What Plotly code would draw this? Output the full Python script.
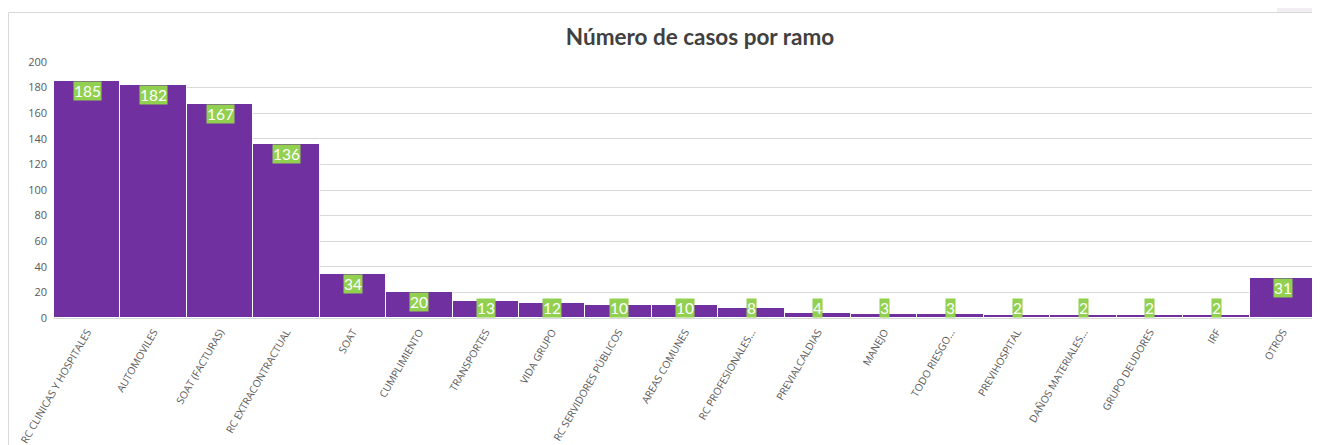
import plotly.graph_objects as go

categories = ["RC CLINICAS Y HOSPITALES", "AUTOMOVILES", "SOAT (FACTURAS)", "RC EXTRACONTRACTUAL",
              "SOAT", "CUMPLIMIENTO", "TRANSPORTES", "VIDA GRUPO", "RC SERVIDORES PÚBLICOS",
              "AREAS COMUNES", "RC PROFESIONALES...", "PREVIALCALDIAS", "MANEJO", "TODO RIESGO...",
              "PREVIHOSPITAL", "DAÑOS MATERIALES...", "GRUPO DEUDORES", "IRF", "OTROS"]
values = [185, 182, 167, 136, 34, 20, 13, 12, 10, 10, 8, 4, 3, 3, 2, 2, 2, 2, 31]
y_ticks = list(range(0, 201, 20))

OFF = 8  # page body offset
W, H = 1320 - OFF, 445 - OFF
ml, mr, mt, mb = 54 - OFF, 4, 62 - OFF, 127
pw, ph = W - ml - mr, H - mt - mb
px = lambda x: (x - ml - OFF) / pw
py = lambda y: (H + OFF - mb - y) / ph

fig = go.Figure(go.Bar(
    x=categories, y=values,
    marker=dict(color="#7030A0", line=dict(color="#FFFFFF", width=1)),
    hoverinfo="x+y",
))

label_min = 15  # below this the label box sits on the axis
for c, v in zip(categories, values):
    if v >= label_min:
        fig.add_annotation(x=c, y=v, yanchor="top", xanchor="center")
    else:
        fig.add_annotation(x=c, y=0, yanchor="bottom", xanchor="center")
    a = fig.layout.annotations[-1]
    a.text = str(v)
    a.showarrow = False
    a.bgcolor = "#92D050"
    a.borderpad = 0
    a.font = dict(family="Lato, Calibri, sans-serif", size=15.5, color="#FFFFFF")

# outer chart border
fig.add_shape(type="rect", xref="paper", yref="paper",
              x0=px(8.5), x1=1.05, y0=-1, y1=py(12.5),
              line=dict(color="#D9D9D9", width=1), fillcolor="rgba(0,0,0,0)", layer="below")
# light patch at the top right corner
fig.add_shape(type="rect", xref="paper", yref="paper",
              x0=px(1277), x1=px(1330), y0=py(12), y1=py(-5),
              line=dict(width=0), fillcolor="#F2EFF4", layer="below")

fig.update_layout(
    width=W, height=H, autosize=False,
    margin=dict(l=ml, r=mr, t=mt, b=mb),
    paper_bgcolor="#FFFFFF", plot_bgcolor="#FFFFFF",
    bargap=0,
    showlegend=False,
    title=dict(text="Número de casos por ramo", x=(700 - OFF) / W, xanchor="center",
               y=1 - (37 - OFF) / H, yanchor="middle", xref="container", yref="container",
               font=dict(family="Lato, Calibri, sans-serif", size=22.5, color="#404040", weight="bold")),
    xaxis=dict(tickangle=-60, tickfont=dict(family="Open Sans, Calibri, sans-serif", size=10.3, color="#595959"),
               showgrid=False, showline=True, linecolor="#D9D9D9", automargin=False, ticks="",
               ticklabelstandoff=3),
    yaxis=dict(range=[0, 200], tickvals=y_ticks, showgrid=True, gridcolor="#D9D9D9", gridwidth=1,
               zeroline=False, showline=False, automargin=False, ticks="", ticklabelstandoff=6,
               tickfont=dict(family="Open Sans, Calibri, sans-serif", size=11, color="#595959")),
    font=dict(family="Open Sans, Calibri, sans-serif"),
)

fig.write_html("out.html")
